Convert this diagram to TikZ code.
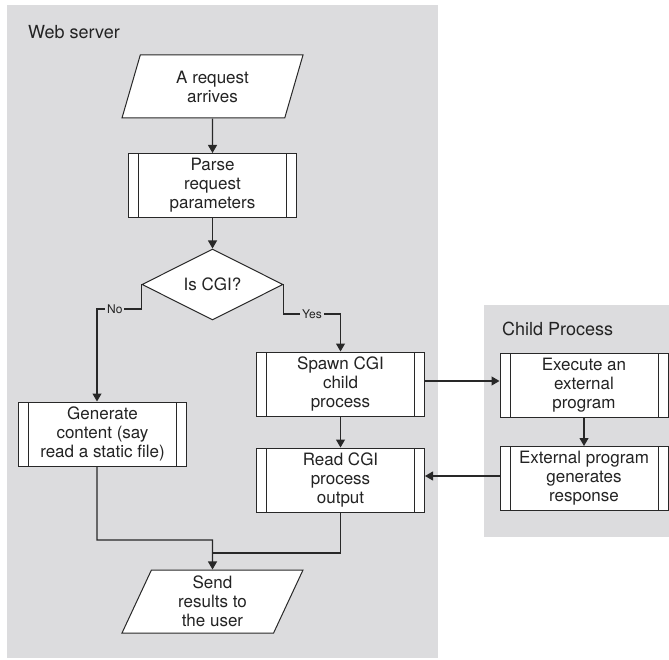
\documentclass[tikz,border=0pt]{standalone}
\usepackage{fontspec}
\setmainfont{TeX Gyre Heros}
\usetikzlibrary{shapes.geometric,arrows.meta}

\definecolor{panelgray}{RGB}{220,220,222}
\definecolor{inkgray}{RGB}{40,40,40}
\definecolor{textgray}{RGB}{35,35,35}

\tikzset{
  panel/.style={fill=panelgray, draw=none},
  heading/.style={anchor=base west, inner sep=0pt, text=textgray,
    font=\fontsize{18}{20}\selectfont},
  boxtext/.style={align=center, text=textgray,
    font=\fontsize{17}{19}\selectfont},
  procbox/.style={boxtext, draw=inkgray, line width=1pt, fill=white,
    rectangle, minimum width=168pt, minimum height=64pt, inner sep=0pt,
    path picture={
      \draw[inkgray, line width=1pt]
        ([xshift=10pt]path picture bounding box.north west) --
        ([xshift=10pt]path picture bounding box.south west)
        ([xshift=-10pt]path picture bounding box.north east) --
        ([xshift=-10pt]path picture bounding box.south east);
    }},
  iobox/.style={boxtext, draw=inkgray, line width=1pt, fill=white,
    trapezium, trapezium left angle=60, trapezium right angle=120,
    trapezium stretches body, minimum width=181pt, minimum height=63pt,
    inner sep=0pt},
  decision/.style={boxtext, draw=inkgray, line width=1pt, fill=white,
    diamond, minimum width=141pt, minimum height=71pt, inner sep=0pt},
  link/.style={draw=inkgray, line width=1.1pt},
  arrowlink/.style={link, -{Triangle[length=8pt,width=9pt]}},
  branchlabel/.style={fill=panelgray, inner sep=2pt, text=textgray,
    font=\fontsize{12}{14}\selectfont}
}

\begin{document}
\begin{tikzpicture}[x=1pt, y=-1pt]
  \useasboundingbox (0,0) rectangle (669,660);

  % background panels
  \fill[panel] (7,5) rectangle (438,658);
  \fill[panel] (484,305) rectangle (669,537);
  \node[heading] (webtitle) at (28,38.5) {Web server};
  \node[heading] (childtitle) at (502,335) {Child Process};

  % web server steps
  \node[iobox] (req) at (212.5,86.5) {A request\\arrives};
  \node[procbox] (parse) at (212.5,185.5) {Parse\\request\\parameters};
  \node[decision] (cgi) at (212.5,284.5) {Is CGI?};
  \node[procbox] (gen) at (102.5,434) {Generate\\content (say\\read a static file)};
  \node[procbox] (spawn) at (340.5,384) {Spawn CGI\\child\\process};
  \node[procbox] (read) at (340.5,480) {Read CGI\\process\\output};
  \node[iobox] (send) at (212.5,601.5) {Send\\results to\\the user};

  % child process steps
  \node[procbox] (exec) at (584,385.5) {Execute an\\external\\program};
  \node[procbox] (ext) at (584,478.5) {External program\\generates\\response};

  % turning points of the routed connectors
  \coordinate (noturn) at (97,309);
  \coordinate (yesturn) at (340.5,314);
  \coordinate (genout) at ([xshift=-5.5pt]gen.south);
  \coordinate (genin) at ([xshift=-5.5pt]gen.north);
  \coordinate (joinA) at (212.5,540);
  \coordinate (joinB) at (212.5,553);

  % connectors
  \draw[arrowlink] (req) -- (parse);
  \draw[arrowlink] (parse) -- (cgi);
  \draw[arrowlink] (cgi.west) -- (cgi.west |- noturn)
    -- node[branchlabel, pos=0.6] (nolabel) {No} (noturn) -- (genin);
  \draw[arrowlink] (cgi.east) -- (cgi.east |- yesturn)
    -- node[branchlabel, pos=0.5] (yeslabel) {Yes} (yesturn) -- (spawn.north);
  \draw[arrowlink] (spawn) -- (read);
  \draw[arrowlink] ([yshift=3pt]spawn.east) -- ([yshift=3pt]spawn.east -| exec.west);
  \draw[arrowlink] (exec) -- (ext);
  \draw[arrowlink] ([yshift=2.5pt]ext.west) -- ([yshift=2.5pt]ext.west -| read.east);
  \draw[arrowlink] (genout) |- (joinA) -- (send.north);
  \draw[link] (read.south) |- (joinB);
\end{tikzpicture}
\end{document}
